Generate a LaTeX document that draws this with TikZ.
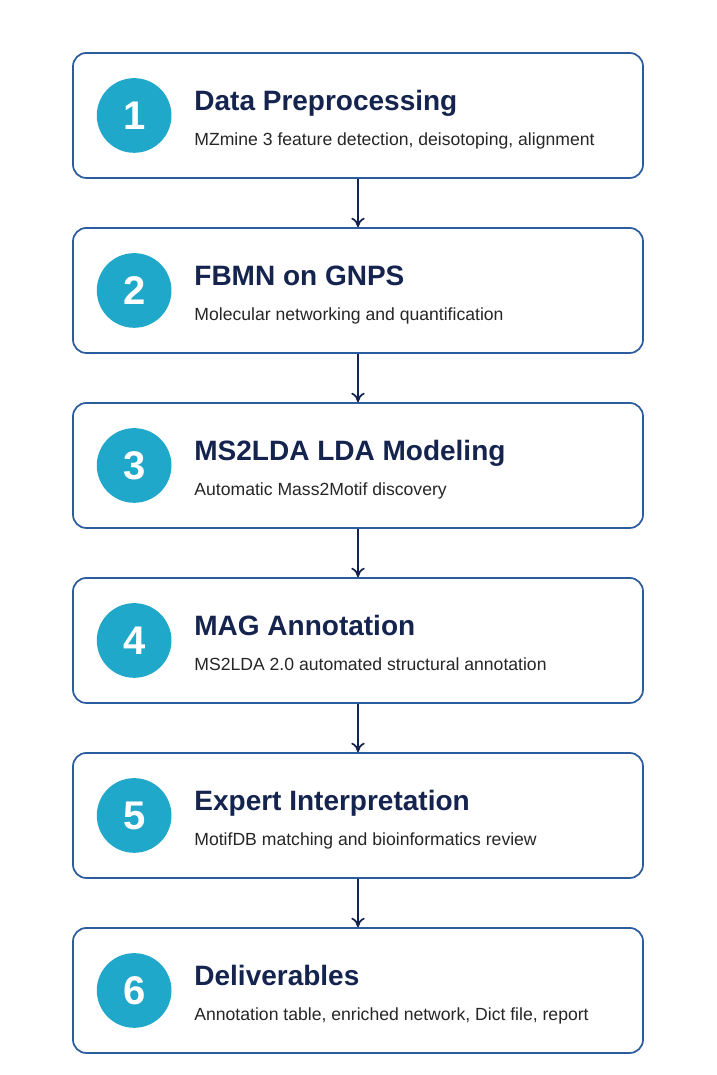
\documentclass[tikz,border=0pt]{standalone}
\usepackage{fontspec}
\setmainfont{Liberation Sans}
\usetikzlibrary{positioning,calc,arrows.meta}
\definecolor{boxblue}{HTML}{2B5C9E}
\definecolor{stepcyan}{HTML}{20A8CA}
\definecolor{navy}{HTML}{14244F}
\tikzset{
  stage/.style={draw=boxblue, line width=1.3pt, rounded corners=10pt,
    minimum width=427.5pt, minimum height=93.75pt, fill=white},
  num/.style={circle, fill=stepcyan, minimum size=56pt, inner sep=0pt,
    text=white, font=\fontsize{30}{30}\selectfont\bfseries},
  title/.style={anchor=base west, inner sep=0pt, text=navy,
    font=\fontsize{21}{22}\selectfont\bfseries},
  sub/.style={anchor=base west, inner sep=0pt, text=black!85,
    font=\fontsize{13.2}{14}\selectfont},
  flow/.style={-{To[length=7pt,width=10pt]}, draw=navy, line width=1.3pt},
}
\begin{document}
\begin{tikzpicture}[node distance=36.2pt]
  \useasboundingbox (0,0) rectangle (537.75pt,-806.25pt);

  % Define boxes
  \node[stage] (s1) at (268.5pt,-86.6pt) {};
  \node[stage, below=of s1] (s2) {};
  \node[stage, below=of s2] (s3) {};
  \node[stage, below=of s3] (s4) {};
  \node[stage, below=of s4] (s5) {};
  \node[stage, below=of s5] (s6) {};

  % Numbers and texts
  \node[num] (n1) at ($(s1.west)+(46.5pt,0)$) {1};
  \node[num] (n2) at ($(s2.west)+(46.5pt,0)$) {2};
  \node[num] (n3) at ($(s3.west)+(46.5pt,0)$) {3};
  \node[num] (n4) at ($(s4.west)+(46.5pt,0)$) {4};
  \node[num] (n5) at ($(s5.west)+(46.5pt,0)$) {5};
  \node[num] (n6) at ($(s6.west)+(46.5pt,0)$) {6};

  \node[title] (t1) at ($(s1.west)+(91.5pt,3.5pt)$) {Data Preprocessing};
  \node[title] (t2) at ($(s2.west)+(91.5pt,3.5pt)$) {FBMN on GNPS};
  \node[title] (t3) at ($(s3.west)+(91.5pt,3.5pt)$) {MS2LDA LDA Modeling};
  \node[title] (t4) at ($(s4.west)+(91.5pt,3.5pt)$) {MAG Annotation};
  \node[title] (t5) at ($(s5.west)+(91.5pt,3.5pt)$) {Expert Interpretation};
  \node[title] (t6) at ($(s6.west)+(91.5pt,3.5pt)$) {Deliverables};

  \node[sub] (d1) at ($(s1.west)+(91.5pt,-22.5pt)$) {MZmine 3 feature detection, deisotoping, alignment};
  \node[sub] (d2) at ($(s2.west)+(91.5pt,-22.5pt)$) {Molecular networking and quantification};
  \node[sub] (d3) at ($(s3.west)+(91.5pt,-22.5pt)$) {Automatic Mass2Motif discovery};
  \node[sub] (d4) at ($(s4.west)+(91.5pt,-22.5pt)$) {MS2LDA 2.0 automated structural annotation};
  \node[sub] (d5) at ($(s5.west)+(91.5pt,-22.5pt)$) {MotifDB matching and bioinformatics review};
  \node[sub] (d6) at ($(s6.west)+(91.5pt,-22.5pt)$) {Annotation table, enriched network, Dict file, report};

  % Connect the boxes
  \draw[flow] (s1) -- (s2);
  \draw[flow] (s2) -- (s3);
  \draw[flow] (s3) -- (s4);
  \draw[flow] (s4) -- (s5);
  \draw[flow] (s5) -- (s6);

\end{tikzpicture}
\end{document}
